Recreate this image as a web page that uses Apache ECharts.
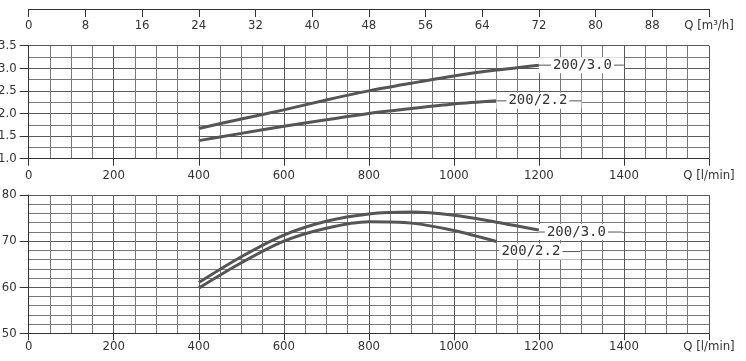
<!DOCTYPE html>
<html>
<head>
<meta charset="utf-8">
<script src="https://cdn.jsdelivr.net/npm/echarts@6/dist/echarts.min.js"></script>
<style>html,body{margin:0;padding:0;background:#fff;}#c{width:746px;height:361px;}</style>
</head>
<body>
<div id="c"></div>
<script>
// ---- data ----
const flow30 = [400, 500, 600, 700, 800, 900, 1000, 1100, 1200];
const power30 = [1.67, 1.88, 2.08, 2.30, 2.50, 2.67, 2.83, 2.96, 3.07];
const eff30 = [61.0, 66.6, 71.3, 74.3, 75.9, 76.3, 75.6, 74.1, 72.4];
const flow22 = [400, 500, 600, 700, 800, 900, 1000, 1100];
const power22 = [1.40, 1.56, 1.72, 1.86, 2.00, 2.11, 2.21, 2.28];
const eff22 = [59.8, 65.3, 70.0, 72.8, 74.2, 73.9, 72.3, 69.9];
const name30 = '200/3.0';
const name22 = '200/2.2';
const flowTicksLmin = [0, 200, 400, 600, 800, 1000, 1200, 1400];
const flowTicksM3h = [0, 8, 16, 24, 32, 40, 48, 56, 64, 72, 80, 88];
const lminUnit = 'Q [l/min]';
const m3hUnit = 'Q [m³/h]';

const pairs = (xs, ys) => xs.map((x, i) => [x, ys[i]]);

const FONT = "'DejaVu Sans Condensed', 'Liberation Sans', sans-serif";
const LFONT = "'DejaVu Sans Mono', monospace";
const TXT = '#333';
const MAJ = '#595959';
const MIN = '#787878';
const CURVE = '#555';

function xAxisLmin(grid, margin) {
  return {
    type: 'value', gridIndex: grid, min: 0, max: 1600, interval: 200,
    axisLine: {show: true, lineStyle: {color: '#333', width: 1}},
    axisTick: {show: true, length: 7, lineStyle: {color: '#333'}},
    axisLabel: {color: TXT, fontFamily: FONT, fontSize: 13, margin: margin,
      showMaxLabel: true, showMinLabel: true, hideOverlap: false,
      formatter: v => v === 1600 ? lminUnit : (flowTicksLmin.includes(v) ? String(v) : '')},
    splitLine: {show: true, lineStyle: {color: MAJ, width: 1}},
    minorTick: {show: false, splitNumber: 4},
    minorSplitLine: {show: true, lineStyle: {color: MIN, width: 1}}
  };
}
function yAxisDef(grid, min, max, interval, minorSplit, dec) {
  return {
    type: 'value', gridIndex: grid, min: min, max: max, interval: interval,
    axisLine: {show: true, lineStyle: {color: '#333', width: 1}},
    axisTick: {show: true, length: 9, lineStyle: {color: '#333'}},
    axisLabel: {color: TXT, fontFamily: FONT, fontSize: 13, margin: 12,
      formatter: v => v.toFixed(dec)},
    splitLine: {show: true, lineStyle: {color: MAJ, width: 1}},
    minorTick: {show: false, splitNumber: minorSplit},
    minorSplitLine: {show: true, lineStyle: {color: MIN, width: 1}}
  };
}

function curve(name, xi, yi, data, labelText, offset, leftDash, rightDash) {
  const parts = [];
  if (leftDash) parts.push('{d|}');
  parts.push('{t|' + labelText + '}');
  if (rightDash) parts.push('{d2|}');
  return {
    type: 'line', name: name, xAxisIndex: xi, yAxisIndex: yi,
    data: data, smooth: 0.3, symbol: 'none', z: 5,
    lineStyle: {color: CURVE, width: 3},
    endLabel: {
      show: true, distance: 0, offset: offset,
      formatter: () => parts.join(''),
      backgroundColor: '#fff', padding: [1, 0, 1, 0],
      rich: {
        t: {fontFamily: LFONT, fontSize: 14, color: TXT, padding: [0, 2, 0, 2]},
        d: {width: leftDash, height: 1, backgroundColor: '#555'},
        d2: {width: rightDash, height: 1, backgroundColor: '#555'}
      }
    }
  };
}

const chart = echarts.init(document.getElementById('c'), null, {renderer: 'canvas'});
chart.setOption({
  animation: false,
  backgroundColor: '#fff',
  grid: [
    {left: 28.7, right: 37, top: 45.7, height: 113, containLabel: false, outerBoundsMode: 'none'},
    {left: 28.7, right: 37, top: 195, height: 138.3, containLabel: false, outerBoundsMode: 'none'}
  ],
  xAxis: [
    xAxisLmin(0, 10),
    xAxisLmin(1, 7),
    {
      type: 'value', gridIndex: 0, position: 'top', offset: 36.7,
      min: 0, max: 96, interval: 8,
      axisLine: {show: true, lineStyle: {color: '#333', width: 1}},
      axisTick: {show: true, inside: true, length: 8, lineStyle: {color: '#333'}},
      axisLabel: {inside: true, margin: 10, color: TXT, fontFamily: FONT, fontSize: 13,
        showMaxLabel: true, hideOverlap: false,
        formatter: v => v === 96 ? m3hUnit : (flowTicksM3h.includes(v) ? String(v) : '')},
      splitLine: {show: false}
    }
  ],
  yAxis: [
    yAxisDef(0, 1.0, 3.5, 0.5, 2, 1),
    yAxisDef(1, 50, 80, 10, 5, 0)
  ],
  series: [
    curve(name30, 0, 0, pairs(flow30, power30), name30, [0, 0], 12, 10),
    curve(name22, 0, 0, pairs(flow22, power22), name22, [0, 0], 10, 12),
    curve(name30, 1, 1, pairs(flow30, eff30), name30, [0, 2], 6, 14),
    curve(name22, 1, 1, pairs(flow22, eff22), name22, [3, 10], 0, 18)
  ]
});
</script>
</body>
</html>
